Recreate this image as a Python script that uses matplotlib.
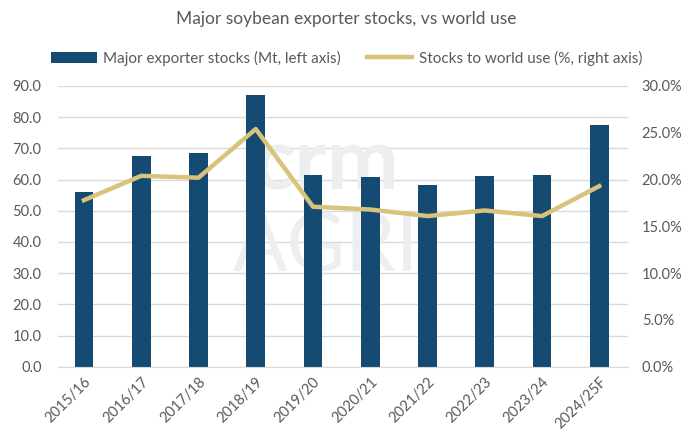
import matplotlib.pyplot as plt
import numpy as np
from matplotlib.ticker import FuncFormatter, MultipleLocator

plt.rcParams['font.family'] = ['Lato', 'DejaVu Sans']

seasons = ["2015/16", "2016/17", "2017/18", "2018/19", "2019/20",
           "2020/21", "2021/22", "2022/23", "2023/24", "2024/25F"]
stocks_mt = [56.1, 67.6, 68.6, 87.2, 61.5, 60.9, 58.3, 61.0, 61.5, 77.6]
stocks_to_use_pct = [17.8, 20.4, 20.2, 25.4, 17.1, 16.8, 16.1, 16.7, 16.1, 19.3]

BAR_COLOR = "#154a72"
LINE_COLOR = "#d8c27c"
TEXT_COLOR = "#595959"
GRID_COLOR = "#d9d9d9"

fig = plt.figure(figsize=(6.93, 4.32), dpi=100)
ax = fig.add_axes([0.084, 0.151, 0.822, 0.650])
ax2 = ax.twinx()

x = np.arange(len(seasons))
bars = ax.bar(x, stocks_mt, width=0.33, color=BAR_COLOR, zorder=2,
              label="Major exporter stocks (Mt, left axis)")
line, = ax2.plot(x, stocks_to_use_pct, color=LINE_COLOR, lw=3.2,
                 solid_joinstyle="round", zorder=3,
                 label="Stocks to world use (%, right axis)")

ax.set_xlim(-0.45, len(seasons) - 0.5)
ax.set_ylim(0, 90)
ax2.set_ylim(0, 30)
ax.yaxis.set_major_locator(MultipleLocator(10))
ax2.yaxis.set_major_locator(MultipleLocator(5))
ax.yaxis.set_major_formatter(FuncFormatter(lambda v, _: f"{v:.1f}"))
ax2.yaxis.set_major_formatter(FuncFormatter(lambda v, _: f"{v:.1f}%"))

ax.grid(axis="y", color=GRID_COLOR, lw=1.0, zorder=0)
ax.set_axisbelow(True)
for a in (ax, ax2):
    for s in a.spines.values():
        s.set_visible(False)
    a.tick_params(length=0, labelsize=10.5, labelcolor=TEXT_COLOR)
ax.spines["bottom"].set_visible(True)
ax.spines["bottom"].set_color(GRID_COLOR)
ax.tick_params(axis="y", pad=12)
ax2.tick_params(axis="y", pad=10)

ax.set_xticks(x)
ax.set_xticklabels(seasons, rotation=45, ha="right", rotation_mode="anchor")
ax.tick_params(axis="x", pad=6)

# faint company watermark, kept behind the bars
ax.text(0.47, 0.72, "crm", transform=ax.transAxes, fontsize=62,
        color="#eceef0", ha="center", va="center", zorder=1,
        fontweight="bold")
ax.text(0.47, 0.42, "AGRI", transform=ax.transAxes, fontsize=58,
        color="#eceef0", ha="center", va="center", zorder=1)

fig.suptitle("Major soybean exporter stocks, vs world use", y=0.975,
             fontsize=12.5, color=TEXT_COLOR)
fig.legend(handles=[bars, line], loc="upper center", ncol=2,
           bbox_to_anchor=(0.5, 0.915), frameon=False, fontsize=11,
           labelcolor=TEXT_COLOR, handlelength=3.0, handletextpad=0.4,
           columnspacing=1.7)

fig.savefig("out.png", dpi=100)
